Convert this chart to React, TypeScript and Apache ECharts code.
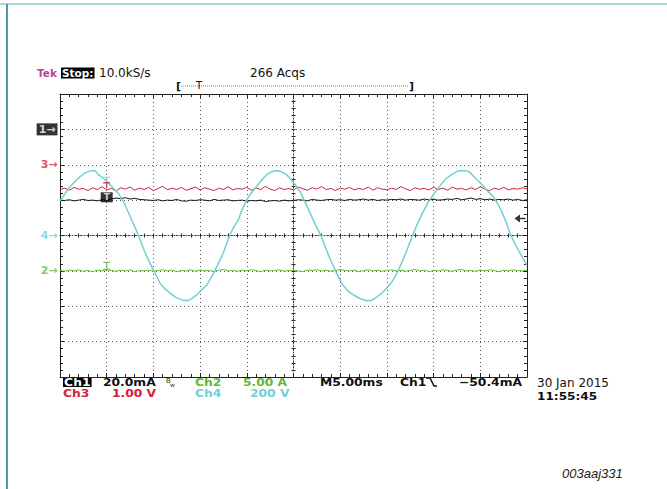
import React, { useEffect, useRef } from "react";
import * as echarts from "echarts";

// ---- data (divisions on screen; time in ms relative to screen centre) ----
const timeRange = [-25, 25];
const timePerDiv = 5;
const divRange = [-4, 4];

const ch3Red = [
  1.30, 1.34, 1.28, 1.36, 1.31, 1.33, 1.27, 1.35, 1.30, 1.38,
  1.29, 1.33, 1.26, 1.35, 1.31, 1.37, 1.28, 1.34, 1.30, 1.36,
  1.27, 1.33, 1.39, 1.29, 1.34, 1.30, 1.36, 1.28, 1.32, 1.37,
  1.29, 1.35, 1.31, 1.27, 1.34, 1.30, 1.38, 1.29, 1.33, 1.31,
  1.36, 1.28, 1.34, 1.30, 1.39, 1.31, 1.27, 1.35, 1.30, 1.33,
  1.29, 1.37, 1.32, 1.28, 1.35, 1.31, 1.38, 1.30, 1.33, 1.27,
  1.34, 1.31, 1.36, 1.29, 1.33, 1.30, 1.37, 1.28, 1.35, 1.31,
  1.29, 1.34, 1.30, 1.38, 1.32, 1.27, 1.35, 1.31, 1.33, 1.29,
  1.36, 1.30, 1.34, 1.28, 1.37, 1.31, 1.33, 1.29, 1.35, 1.30,
  1.38, 1.31, 1.27, 1.34, 1.30, 1.36, 1.29, 1.33, 1.31, 1.35, 1.32,
];

const ch1Black = [
  1.00, 0.99, 1.01, 0.98, 1.00, 1.02, 0.99, 1.00, 0.98, 1.01,
  1.00, 1.03, 1.06, 1.04, 1.07, 1.03, 1.05, 1.02, 1.01, 1.00,
  0.99, 1.01, 0.98, 1.00, 0.99, 1.02, 0.98, 0.97, 1.00, 0.99,
  1.01, 1.00, 0.98, 1.02, 0.99, 1.00, 1.01, 0.98, 0.99, 1.00,
  0.97, 0.99, 0.98, 1.00, 0.96, 0.98, 0.99, 0.97, 1.00, 0.98,
  0.99, 1.01, 1.00, 0.98, 1.02, 1.00, 0.99, 1.01, 1.02, 1.00,
  1.01, 0.99, 1.02, 1.00, 1.01, 1.03, 1.00, 1.02, 0.99, 1.01,
  1.00, 1.02, 1.01, 1.03, 1.00, 1.02, 1.01, 1.00, 1.03, 1.01,
  1.02, 1.00, 1.01, 1.03, 1.02, 1.05, 1.01, 1.03, 1.06, 1.02,
  1.04, 1.01, 1.03, 1.00, 1.02, 1.01, 1.03, 1.00, 1.02, 0.99, 1.01,
];

const ch2Green = [
  -0.99, -1.01, -0.98, -1.00, -0.97, -1.01, -0.99, -1.02, -0.98, -1.00,
  -0.96, -0.99, -1.01, -0.98, -1.00, -0.97, -1.02, -0.99, -1.00, -0.98,
  -1.01, -0.99, -0.97, -1.00, -0.98, -1.02, -0.99, -1.00, -0.97, -1.01,
  -0.98, -1.00, -0.99, -1.02, -0.98, -0.96, -1.00, -0.99, -1.01, -0.98,
  -1.00, -0.97, -0.99, -1.02, -0.98, -1.00, -0.99, -0.97, -1.01, -0.99,
  -0.98, -1.00, -1.02, -0.98, -0.99, -0.97, -1.00, -0.98, -1.01, -0.99,
  -0.96, -0.99, -1.00, -0.98, -1.02, -0.99, -0.97, -1.00, -0.98, -1.01,
  -0.99, -0.97, -1.00, -0.98, -1.01, -0.99, -0.96, -1.00, -0.98, -1.02,
  -0.99, -1.00, -0.97, -0.99, -1.01, -0.98, -0.96, -1.00, -0.99, -1.01,
  -0.98, -1.00, -0.97, -0.99, -1.02, -0.98, -1.00, -0.97, -0.99, -1.00, -0.98,
];

const ch4Cyan: [number, number][] = [
  [-25.0, 0.98], [-24.46, 1.18], [-23.93, 1.38], [-23.39, 1.53], [-22.86, 1.66],
  [-22.32, 1.77], [-21.79, 1.82], [-21.25, 1.84], [-20.9, 1.72], [-20.4, 1.63],
  [-19.83, 1.48], [-19.33, 1.35], [-18.76, 1.2], [-18.04, 0.87], [-17.32, 0.44],
  [-16.62, 0.02], [-16.08, -0.36], [-15.55, -0.69], [-15.01, -0.97], [-14.29, -1.35],
  [-13.76, -1.51], [-13.22, -1.63], [-12.58, -1.75], [-11.97, -1.82], [-11.26, -1.84],
  [-10.87, -1.78], [-10.36, -1.68], [-9.9, -1.55], [-9.29, -1.4], [-8.83, -1.2],
  [-8.4, -0.97], [-7.97, -0.75], [-7.52, -0.5], [-7.17, -0.24], [-6.8, 0.02],
  [-6.37, 0.25], [-5.91, 0.44], [-5.51, 0.73], [-5.01, 1.01], [-4.5, 1.21],
  [-3.94, 1.39], [-3.43, 1.56], [-2.87, 1.72], [-2.35, 1.8], [-1.8, 1.84],
  [-1.28, 1.8], [-0.73, 1.72], [-0.27, 1.58], [0.16, 1.44], [0.7, 1.24],
  [1.23, 0.95], [1.77, 0.64], [2.3, 0.33], [2.95, -0.01], [3.48, -0.38],
  [4.02, -0.72], [4.55, -1.03], [5.19, -1.37], [5.84, -1.57], [6.48, -1.69],
  [7.12, -1.78], [7.77, -1.84], [8.3, -1.84], [8.83, -1.76], [9.37, -1.65],
  [9.9, -1.51], [10.55, -1.31], [11.08, -1.06], [11.62, -0.75], [12.15, -0.41],
  [12.69, -0.04], [13.22, 0.3], [13.76, 0.61], [14.4, 0.93], [15.04, 1.18],
  [15.69, 1.41], [16.33, 1.61], [16.97, 1.73], [17.61, 1.82], [18.26, 1.84],
  [18.72, 1.82], [19.33, 1.66], [20.16, 1.44], [20.72, 1.27], [21.39, 1.1],
  [21.79, 0.93], [22.29, 0.68], [22.75, 0.39], [23.18, 0.07], [23.61, -0.18],
  [24.07, -0.41], [24.47, -0.6], [24.97, -0.83],
];

const channelLabels = ["1", "3", "4", "2"];
const channelOffsets = [3, 2, 0, -1];

const ch1Scale = 20.0; // mA/div
const triggerValue = -50.4; // mA
const triggerTime = -20; // ms
const cursorLevels = [1.56, 1.41, 1.08, -0.86]; // ch4, ch3, ch1, ch2

const readoutRow1 = ["Ch1", "20.0mA", "Ch2", "5.00 A", "M5.00ms", "Ch1", "\u221250.4mA"];
const readoutRow2 = ["Ch3", "1.00 V", "Ch4", "200 V"];
const dateText = ["30 Jan 2015", "11:55:45"];
const headerText = ["Tek", "Stop:", "10.0kS/s", "266 Acqs"];

// ---- styles ----
const C1 = "#111111";
const C2 = "#63b935";
const C3 = "#d3223d";
const C4 = "#72cfd3";
const TEK = "#b5449c";
const FONT = '"DejaVu Sans", sans-serif';

function spread(vals: number[]): [number, number][] {
  const n = vals.length;
  return vals.map((v, i) => [timeRange[0] + (i * (timeRange[1] - timeRange[0])) / (n - 1), v]);
}

export default function App() {
  const ref = useRef<HTMLDivElement>(null);

  useEffect(() => {
    if (!ref.current) return;
    const chart = echarts.init(ref.current, undefined, { renderer: "svg" });

    const border = "#222";
    const tickStyle = { color: border, width: 1 };
    const baseX: any = {
      type: "value",
      min: timeRange[0],
      max: timeRange[1],
      interval: timePerDiv,
      axisLabel: { show: false },
      splitLine: { show: false },
    };
    const baseY: any = {
      type: "value",
      min: divRange[0],
      max: divRange[1],
      interval: 1,
      axisLabel: { show: false },
      splitLine: { show: false },
    };
    const gridDots = { color: "#555", width: 1, type: [1, 3] };

    const xAxis = [
      {
        ...baseX,
        position: "bottom",
        axisLine: { show: true, onZero: false, lineStyle: { color: border, width: 1 } },
        axisTick: { show: true, inside: true, length: 4, lineStyle: tickStyle },
        minorTick: { show: true, splitNumber: 5, length: 3, lineStyle: tickStyle },
        splitLine: { show: true, lineStyle: gridDots },
      },
      {
        ...baseX,
        position: "top",
        axisLine: { show: true, onZero: false, lineStyle: { color: border, width: 1 } },
        axisTick: { show: true, inside: true, length: 4, lineStyle: tickStyle },
        minorTick: { show: true, splitNumber: 5, length: 3, lineStyle: tickStyle },
      },
      {
        ...baseX,
        position: "bottom",
        axisLine: { show: true, onZero: true, onZeroAxisIndex: 0, lineStyle: { color: "#333", width: 1, type: [1, 2] } },
        axisTick: { show: true, inside: true, length: 2, lineStyle: tickStyle },
        minorTick: { show: true, splitNumber: 5, length: 2, lineStyle: tickStyle },
      },
      {
        ...baseX,
        position: "bottom",
        axisLine: { show: false, onZero: true, onZeroAxisIndex: 0 },
        axisTick: { show: true, inside: false, length: 2, lineStyle: tickStyle },
        minorTick: { show: true, splitNumber: 5, length: 2, lineStyle: tickStyle },
      },
    ];
    const yAxis = [
      {
        ...baseY,
        position: "left",
        axisLine: { show: true, onZero: false, lineStyle: { color: border, width: 1 } },
        axisTick: { show: true, inside: true, length: 4, lineStyle: tickStyle },
        minorTick: { show: true, splitNumber: 5, length: 3, lineStyle: tickStyle },
        splitLine: { show: true, lineStyle: gridDots },
      },
      {
        ...baseY,
        position: "right",
        axisLine: { show: true, onZero: false, lineStyle: { color: border, width: 1 } },
        axisTick: { show: true, inside: true, length: 4, lineStyle: tickStyle },
        minorTick: { show: true, splitNumber: 5, length: 3, lineStyle: tickStyle },
      },
      {
        ...baseY,
        position: "left",
        axisLine: { show: true, onZero: true, onZeroAxisIndex: 0, lineStyle: { color: "#333", width: 1, type: [1, 2] } },
        axisTick: { show: true, inside: true, length: 2, lineStyle: tickStyle },
        minorTick: { show: true, splitNumber: 5, length: 2, lineStyle: tickStyle },
      },
      {
        ...baseY,
        position: "left",
        axisLine: { show: false, onZero: true, onZeroAxisIndex: 0 },
        axisTick: { show: true, inside: false, length: 2, lineStyle: tickStyle },
        minorTick: { show: true, splitNumber: 5, length: 2, lineStyle: tickStyle },
      },
    ];

    const trace = (name: string, data: [number, number][], color: string, width: number, z: number) => ({
      name,
      type: "line",
      data,
      symbol: "none",
      showSymbol: false,
      silent: true,
      z,
      lineStyle: { color, width },
      xAxisIndex: 0,
      yAxisIndex: 0,
    });

    const labelColors = [C1, C3, C4, C2];
    const markerSeries = {
      type: "scatter",
      symbol: "circle",
      symbolSize: 1,
      clip: false,
      silent: true,
      z: 10,
      itemStyle: { color: "rgba(0,0,0,0)" },
      data: channelLabels.map((lab, i) => ({
        value: [timeRange[0], channelOffsets[i]],
        label: {
          show: true,
          position: "left",
          distance: 2,
          formatter: lab + "\u2192",
          fontFamily: FONT,
          fontSize: 11,
          fontWeight: "bold",
          color: i === 0 ? "#fff" : labelColors[i],
          backgroundColor: i === 0 ? "#000" : "transparent",
          padding: i === 0 ? [1, 2, 0, 2] : 0,
        },
      })),
    };

    const trigLevel = channelOffsets[0] + triggerValue / ch1Scale;
    const triggerArrow = {
      type: "scatter",
      clip: false,
      silent: true,
      z: 11,
      symbol: "path://M0,5 L7,0 L7,4 L14,4 L14,6 L7,6 L7,10 Z",
      symbolSize: [11, 8],
      symbolOffset: [-7, 0],
      itemStyle: { color: "#000" },
      data: [[timeRange[1], trigLevel]],
    };

    const ibeam = "path://M0,0 L8,0 M4,0 L4,8 M0,8 L8,8";
    const tee = "path://M0,0 L8,0 M4,0 L4,8";
    const cursorSeries = {
      type: "scatter",
      clip: false,
      silent: true,
      z: 12,
      data: [
        { value: [triggerTime, cursorLevels[0]], symbol: ibeam, symbolSize: [7, 6], itemStyle: { color: "none", borderColor: C4, borderWidth: 1.2 } },
        { value: [triggerTime, cursorLevels[1]], symbol: tee, symbolSize: [7, 6], itemStyle: { color: "none", borderColor: C3, borderWidth: 1.2 } },
        {
          value: [triggerTime, cursorLevels[2]],
          symbol: "rect",
          symbolSize: [12, 10],
          itemStyle: { color: "#000" },
          label: { show: true, position: "inside", formatter: "T", color: "#fff", fontSize: 9, fontWeight: "bold", fontFamily: FONT },
        },
        { value: [triggerTime, cursorLevels[3]], symbol: ibeam, symbolSize: [7, 7], itemStyle: { color: "none", borderColor: C2, borderWidth: 1.2 } },
      ],
    };

    const t = (x: number, y: number, text: string, fill: string, extra: any = {}) => ({
      type: "text",
      x,
      y,
      scaleX: extra.sx || 1,
      silent: true,
      style: {
        text,
        fill,
        font: extra.font || `bold 11px ${FONT}`,
        lineHeight: extra.lh || 11,
        verticalAlign: "middle",
        align: "left",
        ...(extra.bg ? { backgroundColor: extra.bg, padding: [0, 1, 0, 1] } : {}),
      },
    });

    const readFont = `bold 11px ${FONT}`;
    const rd = { font: readFont, sx: 1.12, lh: 10 };
    const graphic: any[] = [
      { type: "line", shape: { x1: 0, y1: 4, x2: 667, y2: 4 }, style: { stroke: "#a9d4d9", lineWidth: 2 }, silent: true },
      { type: "line", shape: { x1: 7, y1: 4, x2: 7, y2: 489 }, style: { stroke: "#4f99a3", lineWidth: 2 }, silent: true },
      // header
      t(37, 73, headerText[0], TEK, { font: `bold 10.5px ${FONT}` }),
      t(61, 73, headerText[1], "#fff", { bg: "#000", font: `bold 10.5px ${FONT}` }),
      t(99, 73, headerText[2], "#111", { font: `12px ${FONT}`, lh: 12 }),
      t(250, 73, headerText[3], "#111", { font: `12px ${FONT}`, lh: 12 }),
      // record view bar
      { type: "line", shape: { x1: 181, y1: 86, x2: 409, y2: 86 }, style: { stroke: "#888", lineWidth: 1, lineDash: [1, 1] }, silent: true },
      t(176, 86, "[", "#111", { font: `bold 11px ${FONT}` }),
      t(196, 85, "T", "#111", { font: `10px ${FONT}`, lh: 10 }),
      t(409, 86, "]", "#111", { font: `bold 11px ${FONT}` }),
      // readouts row 1
      t(63, 382, readoutRow1[0], "#fff", { ...rd, bg: "#000" }),
      t(103, 382, readoutRow1[1], "#111", rd),
      t(166, 381, "B", "#333", { font: `7px ${FONT}`, lh: 7 }),
      t(170, 384, "w", "#333", { font: `6px ${FONT}`, lh: 6 }),
      t(195, 382, readoutRow1[2], C2, rd),
      t(243, 382, readoutRow1[3], C2, rd),
      t(320, 382, readoutRow1[4], "#111", rd),
      t(400, 382, readoutRow1[5], "#111", rd),
      { type: "polyline", shape: { points: [[426, 378], [430, 378], [434, 386], [437, 386]] }, style: { stroke: "#111", lineWidth: 1.5, fill: "none" }, silent: true },
      t(459, 382, readoutRow1[6], "#111", rd),
      t(537, 383, dateText[0], "#111", { font: `12px ${FONT}`, lh: 11 }),
      // readouts row 2
      t(63, 393, readoutRow2[0], C3, rd),
      t(112, 393, readoutRow2[1], C3, rd),
      t(195, 393, readoutRow2[2], C4, rd),
      t(250, 393, readoutRow2[3], C4, rd),
      t(537, 396, dateText[1], "#111", { font: `bold 11px ${FONT}`, sx: 1.1, lh: 11 }),
      // figure id
      t(562, 473, "003aaj331", "#222", { font: `italic 13px "Liberation Sans", Arial, sans-serif`, lh: 13 }),
    ];

    chart.setOption({
      animation: false,
      backgroundColor: "#fff",
      grid: { left: 60, top: 94, width: 467, height: 283, containLabel: false, outerBoundsMode: "none" },
      xAxis,
      yAxis,
      series: [
        trace("Ch1", spread(ch1Black), C1, 1, 3),
        trace("Ch3", spread(ch3Red), C3, 1, 4),
        trace("Ch2", spread(ch2Green), C2, 1, 4),
        trace("Ch4", ch4Cyan, C4, 1.5, 5),
        markerSeries,
        triggerArrow,
        cursorSeries,
      ],
      graphic,
    });

    return () => chart.dispose();
  }, []);

  return (
    <div
      ref={ref}
      style={{ position: "fixed", left: 0, top: 0, width: 667, height: 489, background: "#fff" }}
    />
  );
}
